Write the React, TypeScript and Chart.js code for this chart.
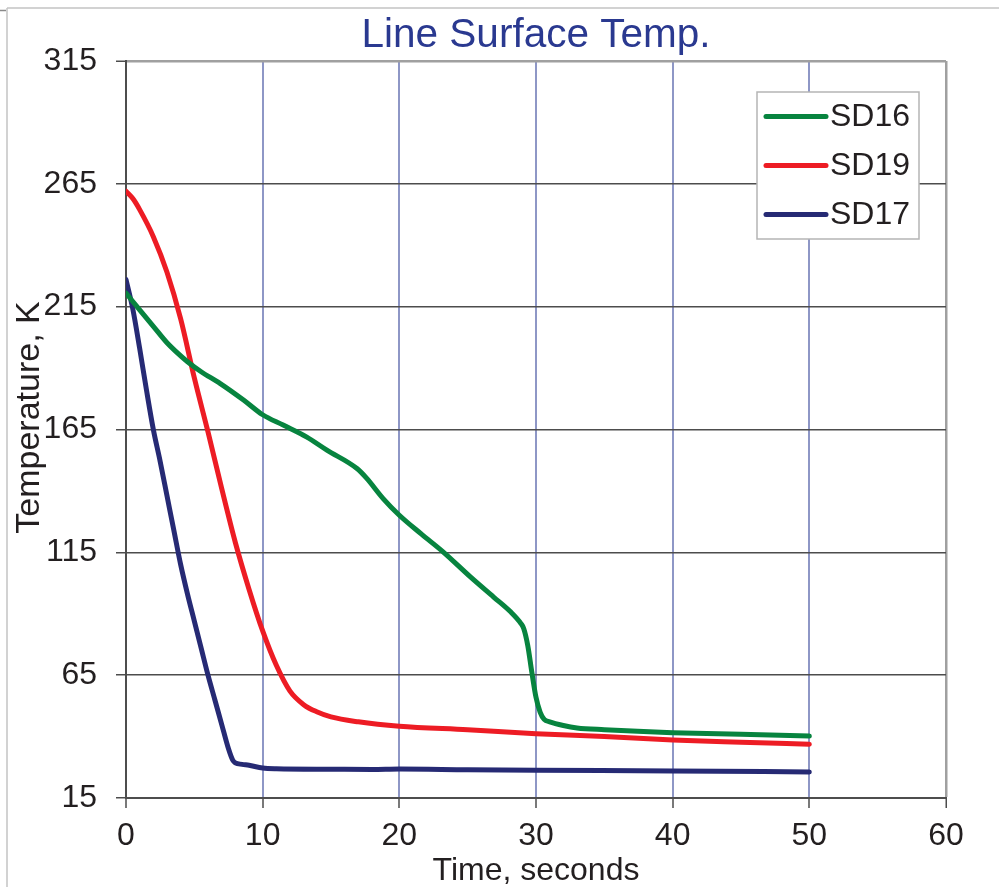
import React, { useEffect, useRef } from "react";
import { Chart, registerables } from "chart.js";

Chart.register(...registerables);

const CHART_TITLE = "Line Surface Temp.";
const X_TITLE = "Time, seconds";
const Y_TITLE = "Temperature, K";
const X_TICKS = [0, 10, 20, 30, 40, 50, 60];
const Y_TICKS = [15, 65, 115, 165, 215, 265, 315];

const SERIES_NAMES = ["SD16", "SD19", "SD17"];
const SERIES_COLORS = ["#07843f", "#ed1c24", "#262a74"];

const SD16_TIME = [0, 1, 2, 3, 3.6, 4.5, 5.5, 6.9, 8.6, 10, 11.5, 13.2, 14.7, 16.9, 17.6, 18.8, 20, 21.6, 23.2, 25.2, 26.9, 28.1, 28.9, 29.1, 29.4, 29.7, 30, 30.3, 30.6, 31, 32, 33, 35, 40, 45, 50];
const SD16_TEMP = [220.5, 213.7, 207, 200.3, 197, 192.6, 188.5, 183.7, 177, 171, 166.8, 162, 156.6, 149.1, 145.2, 137, 130.1, 122.5, 115.2, 105, 96.8, 91, 86, 84, 77, 66, 56, 50, 47, 46, 44.5, 43.5, 42.8, 41.6, 40.9, 40.2];

const SD19_TIME = [0, 0.5, 1, 2, 3, 4, 5, 6, 7, 8, 9, 10, 11, 12, 13, 14, 15, 17, 20, 25, 30, 35, 40, 45, 50];
const SD19_TEMP = [262, 259, 254.5, 243.5, 229, 210, 186, 164, 141, 119, 100, 83, 69, 58.5, 53, 50, 48, 46, 44.2, 42.8, 41.2, 40, 38.6, 37.7, 36.9];

const SD17_TIME = [0, 0.5, 1, 1.5, 2, 2.5, 3, 3.5, 4, 4.5, 5, 5.5, 6, 6.5, 7, 7.5, 7.8, 8, 8.5, 9, 10, 11, 15, 18, 20, 25, 30, 40, 50];
const SD17_TEMP = [226, 214, 198, 181, 165, 152, 138, 124, 110, 98, 87, 76, 65, 55, 45, 35, 30.5, 29.3, 28.7, 28.3, 27.2, 26.9, 26.7, 26.6, 26.8, 26.5, 26.3, 26, 25.6];

const TEXT_COLOR = "#231f20";
const FONT = '"Liberation Sans", Arial, sans-serif';

const toPoints = (xs: number[], ys: number[]) => xs.map((x, i) => ({ x, y: ys[i] }));

const framePlugin = {
  id: "frame",
  beforeDraw(chart: any) {
    const { ctx, width, height } = chart;
    ctx.save();
    ctx.fillStyle = "#ffffff";
    ctx.fillRect(0, 0, width, height);
    ctx.strokeStyle = "#c4c4c4";
    ctx.lineWidth = 1.5;
    ctx.beginPath();
    ctx.moveTo(7, 8);
    ctx.lineTo(width, 8);
    ctx.moveTo(7, 8);
    ctx.lineTo(7, height);
    ctx.stroke();
    ctx.strokeStyle = "#8a8a8a";
    ctx.beginPath();
    ctx.moveTo(0, 10.5);
    ctx.lineTo(6, 10.5);
    ctx.stroke();
    ctx.restore();
  },
};

const yTitlePlugin = {
  id: "yTitle",
  afterDraw(chart: any) {
    const { ctx, chartArea } = chart;
    ctx.save();
    ctx.translate(30, (chartArea.top + chartArea.bottom) / 2 - 12);
    ctx.rotate(-Math.PI / 2);
    ctx.font = `34px ${FONT}`;
    ctx.fillStyle = TEXT_COLOR;
    ctx.textAlign = "center";
    ctx.textBaseline = "middle";
    ctx.fillText(Y_TITLE, 0, 0);
    ctx.restore();
  },
};

const legendPlugin = {
  id: "boxLegend",
  afterDraw(chart: any) {
    const { ctx, chartArea } = chart;
    const right = chartArea.right - 27;
    const left = right - 162;
    const top = chartArea.top + 31;
    const h = 147;
    ctx.save();
    ctx.fillStyle = "#ffffff";
    ctx.fillRect(left, top, right - left, h);
    ctx.strokeStyle = "#b5b5b5";
    ctx.lineWidth = 1.5;
    ctx.strokeRect(left, top, right - left, h);
    ctx.font = `32px ${FONT}`;
    ctx.textBaseline = "middle";
    ctx.textAlign = "left";
    chart.data.datasets.forEach((ds: any, i: number) => {
      const y = top + 24.5 + i * 49;
      ctx.strokeStyle = ds.borderColor;
      ctx.lineWidth = 5;
      ctx.lineCap = "round";
      ctx.beginPath();
      ctx.moveTo(left + 9, y);
      ctx.lineTo(left + 69, y);
      ctx.stroke();
      ctx.fillStyle = TEXT_COLOR;
      ctx.fillText(ds.label, left + 73, y + 1);
    });
    ctx.restore();
  },
};

export default function App() {
  const canvasRef = useRef<HTMLCanvasElement | null>(null);

  useEffect(() => {
    document.body.style.margin = "0";
    const canvas = canvasRef.current;
    if (!canvas) return;
    Chart.defaults.font.family = FONT;
    const series = [
      toPoints(SD16_TIME, SD16_TEMP),
      toPoints(SD19_TIME, SD19_TEMP),
      toPoints(SD17_TIME, SD17_TEMP),
    ];
    const chart = new Chart(canvas, {
      type: "line",
      data: {
        datasets: series.map((pts, i) => ({
          label: SERIES_NAMES[i],
          data: pts,
          borderColor: SERIES_COLORS[i],
          backgroundColor: SERIES_COLORS[i],
          borderWidth: 5,
          pointRadius: 0,
          fill: false,
          cubicInterpolationMode: "monotone",
          borderCapStyle: "round",
          borderJoinStyle: "round",
        })),
      },
      options: {
        animation: false,
        responsive: false,
        maintainAspectRatio: false,
        layout: { padding: { top: 0, right: 53, bottom: 0, left: 0 } },
        plugins: {
          legend: { display: false },
          tooltip: { enabled: false },
          title: {
            display: true,
            text: CHART_TITLE,
            color: "#2a3990",
            fullSize: false,
            font: { size: 40.5, weight: "normal", lineHeight: 1.2 },
            padding: { top: 12, bottom: 0.4 },
          },
        },
        scales: {
          x: {
            type: "linear",
            min: 0,
            max: 60,
            afterBuildTicks: (s: any) => {
              s.ticks = X_TICKS.map((v) => ({ value: v }));
            },
            afterFit: (s: any) => {
              s.height = 89;
            },
            ticks: { color: TEXT_COLOR, font: { size: 32 }, padding: 9, maxRotation: 0, autoSkip: false },
            grid: {
              color: (c: any) => (c.tick && c.tick.value === 60 ? "#a0a0a0" : c.tick && c.tick.value === 0 ? "#4d4d4d" : "#8e97c6"),
              lineWidth: (c: any) => (c.tick && c.tick.value === 60 ? 2.5 : 2),
              tickColor: "#4d4d4d",
              tickWidth: 1.5,
              tickLength: 10,
            },
            border: { color: "#4d4d4d", width: 2 },
            title: {
              display: true,
              text: X_TITLE,
              color: TEXT_COLOR,
              font: { size: 32, lineHeight: 1 },
              padding: { top: 0, bottom: 0 },
            },
          },
          y: {
            type: "linear",
            min: 15,
            max: 315,
            afterBuildTicks: (s: any) => {
              s.ticks = Y_TICKS.map((v) => ({ value: v }));
            },
            afterFit: (s: any) => {
              s.width = 126;
            },
            ticks: { color: TEXT_COLOR, font: { size: 32 }, padding: 19, autoSkip: false },
            grid: {
              color: (c: any) => (c.tick && c.tick.value === 315 ? "#a0a0a0" : "#4d4d4d"),
              lineWidth: (c: any) => (c.tick && c.tick.value === 315 ? 2.5 : 1.5),
              tickColor: "#4d4d4d",
              tickWidth: 1.5,
              tickLength: 10,
            },
            border: { color: "#4d4d4d", width: 2 },
            title: { display: false },
          },
        },
      },
      plugins: [framePlugin, yTitlePlugin, legendPlugin],
    } as any);
    return () => chart.destroy();
  }, []);

  return <canvas ref={canvasRef} width={999} height={887} style={{ display: "block" }} />;
}
